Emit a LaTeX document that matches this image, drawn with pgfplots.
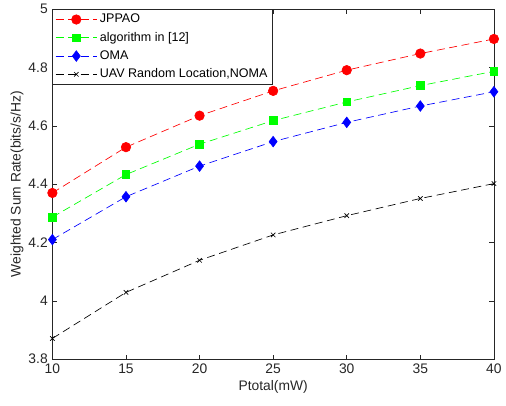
\documentclass[border=0pt]{standalone}
\usepackage{fontspec}
\setmainfont{Liberation Sans}
\usepackage{pgfplots}
\pgfplotsset{compat=1.18}
\definecolor{axgray}{RGB}{38,38,38}
\begin{document}
\begin{tikzpicture}
\begin{axis}[
  scale only axis,
  width=335pt, height=265.5pt,
  xmin=10, xmax=40, ymin=3.8, ymax=5,
  xtick={10,15,20,25,30,35,40},
  ytick={3.8,4,4.2,4.4,4.6,4.8,5},
  yticklabels={3.8,4,4.2,4.4,4.6,4.8,5},
  tick align=inside,
  major tick length=3.5pt,
  axis line style={axgray, line width=0.5pt},
  tick style={axgray, line width=0.5pt},
  ticklabel style={font=\fontsize{10.5}{12}\selectfont, text=axgray},
  /pgf/number format/assume math mode=true,
  xlabel={Ptotal(mW)},
  ylabel={Weighted Sum Rate(bits/s/Hz)},
  label style={font=\fontsize{10.5}{12}\selectfont, text=axgray},
  xlabel style={yshift=2pt},
  ylabel style={yshift=-3pt},
  legend cell align=left,
  legend style={font=\fontsize{9.5}{11}\selectfont, draw=axgray, line width=0.5pt,
    inner xsep=2pt, inner ysep=1.5pt, row sep=1.6pt, at={(0,1)}, anchor=north west},
  legend image code/.code={
    \draw[mark repeat=2,mark phase=2] plot coordinates {(0cm,0cm) (0.55cm,0cm) (1.1cm,0cm)};
  },
  every axis plot/.append style={line width=0.5pt, dash pattern=on 6pt off 3.5pt},
]
\addplot[red, mark=*, mark size=3.6pt, mark options={solid, fill=red}] coordinates {
  (10,4.370) (15,4.527) (20,4.635) (25,4.720) (30,4.791) (35,4.848) (40,4.898)};
\addlegendentry{JPPAO}
\addplot[green, mark=square*, mark size=2.9pt, mark options={solid, fill=green}] coordinates {
  (10,4.287) (15,4.433) (20,4.537) (25,4.618) (30,4.682) (35,4.738) (40,4.787)};
\addlegendentry{algorithm in [12]}
\addplot[blue, mark=diamond*, mark size=4pt, mark options={solid, fill=blue}] coordinates {
  (10,4.210) (15,4.357) (20,4.462) (25,4.546) (30,4.612) (35,4.668) (40,4.717)};
\addlegendentry{OMA}
\addplot[black, mark=x, mark size=2.4pt, mark options={solid}] coordinates {
  (10,3.871) (15,4.029) (20,4.139) (25,4.226) (30,4.292) (35,4.351) (40,4.402)};
\addlegendentry{UAV Random Location,NOMA}
\end{axis}
\path (current axis.south west) ++(-39.75pt,-35.25pt) coordinate (bbsw);
\path (current axis.north east) ++(4.5pt,3.75pt) coordinate (bbne);
\useasboundingbox (bbsw) rectangle (bbne);
\end{tikzpicture}
\end{document}
